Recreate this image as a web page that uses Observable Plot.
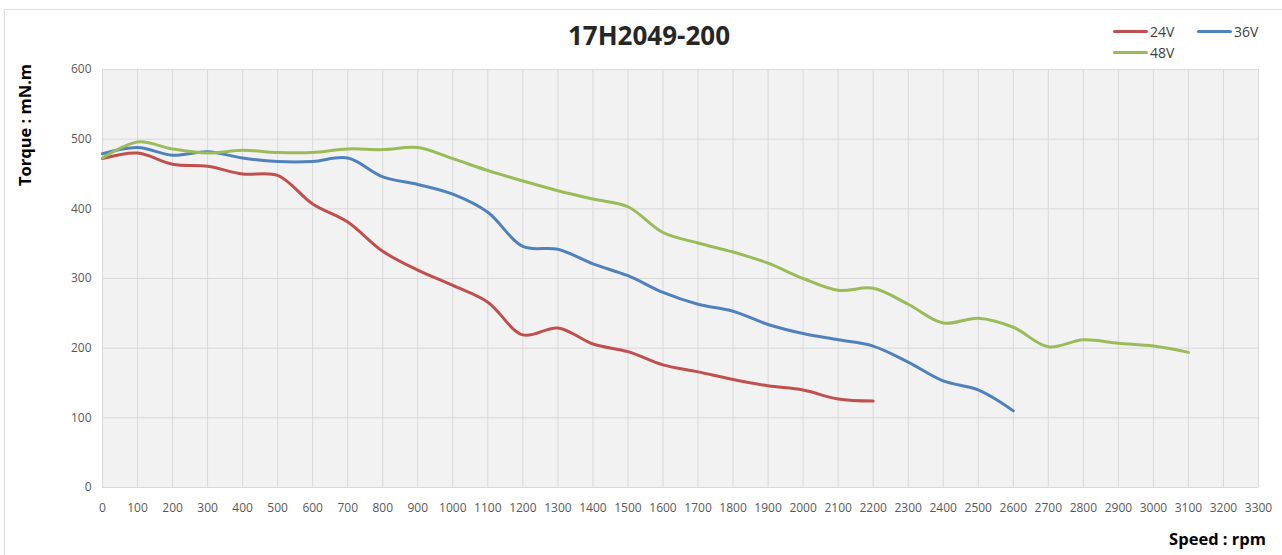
<!DOCTYPE html>
<html>
<head>
<meta charset="utf-8">
<script src="https://cdn.jsdelivr.net/npm/d3@7"></script>
<script src="https://cdn.jsdelivr.net/npm/@observablehq/plot@0.6"></script>
<style>
  html, body { margin: 0; padding: 0; background: #fff; }
  #wrap { position: relative; width: 1282px; height: 555px; overflow: hidden; font-family: "Open Sans", "Noto Sans", sans-serif; }
  #border { position: absolute; left: 4px; top: 9px; width: 1400px; height: 700px; border: 1px solid #d9d9d9; box-sizing: border-box; }
  #chart { position: absolute; left: 0; top: 0; }
  #title { position: absolute; left: 0; width: 1298px; top: 17px; text-align: center; font-weight: 700; font-size: 26px; color: #262626; }
  #ylabel { position: absolute; left: 24px; top: 125px; transform: translate(-50%, -50%) rotate(-90deg); white-space: nowrap; font-weight: 700; font-size: 16.5px; color: #000; }
  #xlabel { position: absolute; right: 16px; top: 527px; white-space: nowrap; font-weight: 700; font-size: 16.5px; color: #000; }
  .leg { position: absolute; display: flex; align-items: center; font-size: 14px; color: #404040; }
  .sw { display: inline-block; width: 35px; height: 3px; border-radius: 1.5px; margin-right: 2px; }
</style>
</head>
<body>
<div id="wrap">
  <div id="border"></div>
  <div id="chart"></div>
  <div id="title"></div>
  <div id="ylabel"></div>
  <div id="xlabel"></div>
  <div id="legend"></div>
</div>
<script>
const chartTitle = "17H2049-200";
const yTitle = "Torque : mN.m";
const xTitle = "Speed : rpm";

const seriesNames = ["24V", "36V", "48V"];
const seriesColors = ["#c0504d", "#4f81bd", "#9bbb59"];

const speed24 = [0,100,200,300,400,500,600,700,800,900,1000,1100,1200,1300,1400,1500,1600,1700,1800,1900,2000,2100,2200];
const torque24 = [472,480,464,461,450,448,407,381,339,312,290,266,219,229,206,195,176,166,155,146,140,127,124];

const speed36 = [0,100,200,300,400,500,600,700,800,900,1000,1100,1200,1300,1400,1500,1600,1700,1800,1900,2000,2100,2200,2300,2400,2500,2600];
const torque36 = [479,488,477,482,473,468,468,473,446,435,421,395,346,342,321,304,280,263,253,234,221,212,203,180,153,140,110];

const speed48 = [0,100,200,300,400,500,600,700,800,900,1000,1100,1200,1300,1400,1500,1600,1700,1800,1900,2000,2100,2200,2300,2400,2500,2600,2700,2800,2900,3000,3100];
const torque48 = [473,496,486,480,484,481,481,486,485,488,472,455,440,426,414,403,366,351,338,322,300,283,286,263,236,243,230,202,212,207,203,194];

const xTicks = [0,100,200,300,400,500,600,700,800,900,1000,1100,1200,1300,1400,1500,1600,1700,1800,1900,2000,2100,2200,2300,2400,2500,2600,2700,2800,2900,3000,3100,3200,3300];
const yTicks = [0,100,200,300,400,500,600];

const rows = [];
[[speed24, torque24], [speed36, torque36], [speed48, torque48]].forEach(([s, t], i) => {
  s.forEach((v, j) => rows.push({series: seriesNames[i], speed: v, torque: t[j]}));
});

const plot = Plot.plot({
  width: 1282,
  height: 555,
  marginLeft: 102,
  marginRight: 24,
  marginTop: 69,
  marginBottom: 68,
  style: { fontFamily: "'Open Sans', 'Noto Sans', sans-serif", fontSize: "12px", color: "#595959", background: "transparent" },
  x: { domain: [0, 3300], ticks: xTicks, tickSize: 0, tickPadding: 16, label: null, tickFormat: d => String(d) },
  y: { domain: [0, 600], ticks: yTicks, tickSize: 0, tickPadding: 11, label: null, tickFormat: d => String(d) },
  color: { domain: seriesNames, range: seriesColors },
  marks: [
    Plot.frame({ fill: "#f2f2f2", stroke: null }),
    Plot.ruleX(xTicks, { stroke: "#d9d9d9", strokeWidth: 1 }),
    Plot.ruleY(yTicks, { stroke: "#d9d9d9", strokeWidth: 1 }),
    Plot.line(rows, { x: "speed", y: "torque", z: "series", stroke: "series", strokeWidth: 3, curve: "catmull-rom", strokeLinecap: "round", strokeLinejoin: "round" })
  ]
});
document.getElementById("chart").appendChild(plot);

document.getElementById("title").textContent = chartTitle;
document.getElementById("ylabel").textContent = yTitle;
document.getElementById("xlabel").textContent = xTitle;

const legendPos = [[1113, 22], [1197, 22], [1113, 43]];
const legend = document.getElementById("legend");
seriesNames.forEach((name, i) => {
  const d = document.createElement("div");
  d.className = "leg";
  d.style.left = legendPos[i][0] + "px";
  d.style.top = legendPos[i][1] + "px";
  const sw = document.createElement("span");
  sw.className = "sw";
  sw.style.background = seriesColors[i];
  const t = document.createElement("span");
  t.textContent = name;
  d.appendChild(sw);
  d.appendChild(t);
  legend.appendChild(d);
});
</script>
</body>
</html>
